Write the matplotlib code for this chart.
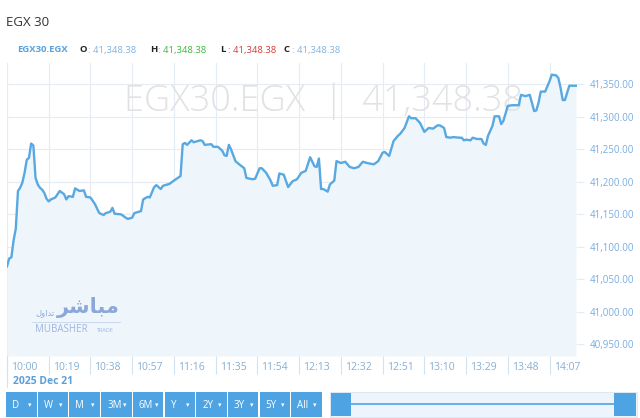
import matplotlib
matplotlib.use('Agg')
import matplotlib.pyplot as plt
from matplotlib.patches import Rectangle
import matplotlib.transforms as mtransforms

W, H = 640, 418

# ---- data (minutes after 10:00, index level) ----
minutes = [0, 1, 2, 3, 4, 5, 6, 7, 8, 9, 10, 11, 12, 13, 14, 15, 16, 17, 18, 19,
           20, 22, 24, 26, 27, 28, 30, 31, 33, 35, 36, 38, 40, 42, 44, 45, 47, 48, 49,
           52, 54, 55, 57, 58, 61, 62, 64, 65, 67, 68, 70, 71, 74, 76, 79, 80, 81, 82,
           84, 85, 88, 89, 90, 93, 94, 96, 98, 99, 100, 101, 102, 104, 105, 108, 109,
           112, 113, 115, 116, 118, 120, 121, 123, 124, 126, 128, 130, 132, 134, 136,
           138, 140, 141, 142, 143, 144, 146, 147, 149, 150, 152, 154, 156, 158, 160,
           162, 164, 167, 169, 171, 172, 174, 176, 178, 179, 181, 183, 184, 186, 188,
           190, 192, 194, 196, 197, 199, 200, 202, 203, 206, 207, 208, 209, 211, 212,
           214, 216, 217, 218, 219, 221, 222, 224, 225, 226, 228, 230, 233, 234, 236,
           238, 240, 241, 242, 243, 245, 247, 248, 250, 251, 252, 253, 254, 256, 259]
values = [41070, 41082, 41084, 41110, 41128, 41186, 41191, 41199, 41214, 41234,
          41237, 41259, 41256, 41206, 41196, 41191, 41188, 41183, 41174, 41170,
          41173, 41176, 41186, 41181, 41173, 41178, 41177, 41190, 41186, 41187,
          41177, 41176, 41166, 41152, 41149, 41152, 41154, 41160, 41151, 41150,
          41145, 41143, 41145, 41152, 41155, 41173, 41177, 41176, 41192, 41195,
          41189, 41194, 41197, 41202, 41209, 41258, 41260, 41257, 41264, 41261,
          41264, 41263, 41257, 41258, 41254, 41254, 41248, 41241, 41240, 41257,
          41250, 41232, 41229, 41221, 41206, 41204, 41205, 41221, 41221, 41214,
          41202, 41194, 41195, 41213, 41211, 41192, 41201, 41204, 41214, 41217,
          41238, 41224, 41223, 41236, 41189, 41189, 41185, 41196, 41202, 41232,
          41229, 41231, 41223, 41221, 41223, 41231, 41229, 41227, 41232, 41245,
          41246, 41240, 41263, 41271, 41274, 41283, 41301, 41298, 41298, 41291,
          41277, 41283, 41282, 41287, 41287, 41283, 41269, 41268, 41269, 41268,
          41268, 41264, 41265, 41264, 41268, 41266, 41266, 41259, 41257, 41271,
          41286, 41301, 41301, 41289, 41294, 41317, 41318, 41318, 41334, 41332,
          41334, 41309, 41310, 41322, 41339, 41339, 41355, 41365, 41364, 41360,
          41345, 41326, 41326, 41348, 41348]

tick_labels = ['10:00', '10:19', '10:38', '10:57', '11:16', '11:35', '11:54',
               '12:13', '12:32', '12:51', '13:10', '13:29', '13:48', '14:07']
tick_step = 19
y_ticks = [40950, 41000, 41050, 41100, 41150, 41200, 41250, 41300, 41350]
date_label = '2025 Dec 21'
title = 'EGX 30'
symbol = 'EGX30.EGX'
ohlc_keys = ['O', 'H', 'L', 'C']
ohlc_vals = [41348.38, 41348.38, 41348.38, 41348.38]
last_value = 41348.38
ranges = ['D', 'W', 'M', '3M', '6M', 'Y', '2Y', '3Y', '5Y', 'All']

FONT = ['Open Sans', 'DejaVu Sans']
plt.rcParams['font.family'] = FONT

fig = plt.figure(figsize=(6.4, 4.18), dpi=100)


def fx(px):
    return px / W


def fy(py):
    return 1 - py / H


LINE = '#58a8e2'
BTN = '#4ea3e3'

ax = fig.add_axes([fx(7), fy(356), fx(577) - fx(7), fy(63) - fy(356)])
ax.set_xlim(0, 259.5)
ax.set_ylim(40932, 41383)
ax.fill_between(minutes, values, 40932, color='#eef6fc', lw=0, zorder=1)
ax.plot(minutes, values, color=LINE, lw=1.7, solid_joinstyle='round', zorder=3)

x_ticks = [tick_step * i for i in range(len(tick_labels))]
ax.set_xticks(x_ticks)
ax.set_xticklabels([])
ax.tick_params(axis='x', length=13, width=0.8, color='#d3e2ef', direction='out')
ax.set_yticks(y_ticks)
ax.yaxis.tick_right()
ax.set_yticklabels([f'{v:,.2f}' for v in y_ticks])
ax.tick_params(axis='y', length=5, width=0.8, color='#e6ebf0', labelsize=7,
               labelcolor='#78ade0', pad=4)
ax.grid(color='#e5ecf3', lw=0.8, zorder=0)
ax.set_axisbelow(True)
for s in ax.spines.values():
    s.set_visible(False)

# x tick labels placed to the right of each tick
trans = mtransforms.blended_transform_factory(ax.transData, ax.transAxes)
for xt, lab in zip(x_ticks, tick_labels):
    t = trans + mtransforms.ScaledTranslation(4 / 100, -11 / 100, fig.dpi_scale_trans)
    ax.text(xt, 0, lab, transform=t, ha='left', va='center', fontsize=7.5,
            color='#86aed3', clip_on=False)
# date marker line + label
ax.plot([0, 0], [0, -31 / 293], transform=trans, color='#d3e2ef', lw=0.8, clip_on=False)
fig.text(fx(13), fy(382), date_label, ha='left', va='center', fontsize=7.5,
         fontweight='bold', color='#5b9fd8')

# watermark
ax.text(0.555, 0.87, f'{symbol}  |  {last_value:,.2f}', transform=ax.transAxes,
        ha='center', va='center', fontsize=26, fontweight='light', color='#e2e2e2',
        zorder=2)

# logo
fig.text(fx(88), fy(307), '\uFEAE\uFEB7\uFE8E\uFE92\uFEE3', ha='center', va='center',
         fontsize=15, fontweight='bold', color='#8da8d8', family='DejaVu Sans')
fig.text(fx(45), fy(313), '\uFEDD\uFEED\uFE8D\uFEAA\uFE97', ha='center', va='center',
         fontsize=6, color='#8da8d8', family='DejaVu Sans')
fig.add_artist(plt.Line2D([fx(32), fx(120)], [fy(322), fy(322)], color='#c6d3ea', lw=0.6))
fig.text(fx(35), fy(330), 'MUBASHER', ha='left', va='center', fontsize=7,
         color='#9fb4e0')
fig.text(fx(97), fy(330), 'TRADE', ha='left', va='center', fontsize=4,
         color='#9fb4e0')

# header
fig.text(fx(6), fy(23), title, ha='left', va='center', fontsize=9.5, color='#333333')
hy = fy(50)
fig.text(fx(17), hy, symbol, ha='left', va='center', fontsize=6.8, fontweight='bold',
         color='#5aa2dc')
val_colors = ['#7fb3e3', '#3cb83c', '#d23c3c', '#7fb3e3']
key_x = [80, 150, 220, 284]
for k, v, c, kx in zip(ohlc_keys, ohlc_vals, val_colors, key_x):
    fig.text(fx(kx), hy, k, ha='left', va='center', fontsize=6.8, fontweight='bold',
             color='#222222')
    fig.text(fx(kx + 8), hy, f': {v:,.2f}', ha='left', va='center', fontsize=6.8,
             color=c)

# range buttons
bx0, bw, bstep = 6, 30.5, 31.7
for i, r in enumerate(ranges):
    x0 = bx0 + i * bstep
    fig.add_artist(Rectangle((fx(x0), fy(417)), bw / W, 25 / H,
                             transform=fig.transFigure, color=BTN, lw=0))
    fig.text(fx(x0 + 6), fy(405), r, ha='left', va='center', fontsize=7,
             color='white')
    fig.text(fx(x0 + bw - 7), fy(405), '\u25be', ha='center', va='center',
             fontsize=5, color='white', family='DejaVu Sans')

# navigator slider
fig.add_artist(Rectangle((fx(330), fy(417)), (637 - 330) / W, 25 / H,
                         transform=fig.transFigure, facecolor='#edf4fb',
                         edgecolor='#d8e6f3', lw=0.6))
fig.add_artist(plt.Line2D([fx(350), fx(615)], [fy(404), fy(404)], color=BTN, lw=1.2))
fig.add_artist(Rectangle((fx(331), fy(416)), 20 / W, 23 / H,
                         transform=fig.transFigure, color=BTN, lw=0))
fig.add_artist(Rectangle((fx(614), fy(416)), 22 / W, 23 / H,
                         transform=fig.transFigure, color=BTN, lw=0))

fig.savefig('out.png', dpi=100, facecolor='white')
